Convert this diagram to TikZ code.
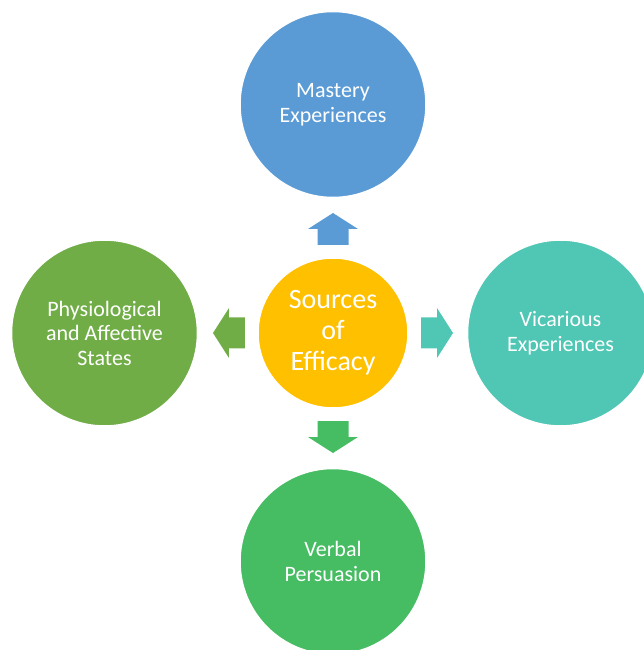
\documentclass[tikz,border=0pt]{standalone}
\usepackage{fontspec}
\setmainfont{Carlito}
\usetikzlibrary{positioning}
\definecolor{masteryblue}{HTML}{5B9BD5}
\definecolor{sourceyellow}{HTML}{FFC000}
\definecolor{vicariousteal}{HTML}{50C6B4}
\definecolor{physiogreen}{HTML}{70AD47}
\definecolor{verbalgreen}{HTML}{46BC63}
\tikzset{
  bubble/.style={draw=white, line width=1.5pt, circle, minimum size=186pt,
    inner sep=0pt, text=white, align=center, font=\fontsize{22}{24.5}\selectfont},
  blockarrow/.style={draw=none}
}
\begin{document}
\begin{tikzpicture}[x=1pt,y=1pt]
\useasboundingbox (-333,-317) rectangle (310,333);
\node[bubble, fill=sourceyellow, minimum size=150pt,
  font=\fontsize{28}{31}\selectfont] (src) at (0,0) {Sources\\of\\Efficacy};
\node[bubble, fill=masteryblue, above=59pt of src] (mastery) {Mastery\\Experiences};
\node[bubble, fill=vicariousteal, right=58pt of src] (vicarious) {Vicarious\\Experiences};
\node[bubble, fill=verbalgreen, below=59pt of src] (verbal) {Verbal\\Persuasion};
\node[bubble, fill=physiogreen, left=59pt of src] (physio) {Physiological\\and Affective\\States};
% block arrows pointing out of the centre
\foreach \ang/\col in {90/masteryblue, 0/vicariousteal, 270/verbalgreen, 180/physiogreen}
  \fill[blockarrow, \col, rotate around={\ang:(src.center)}]
    (src.center) ++(88,-15.5) -- ++(16,0) -- ++(0,-9.5) -- ++(16,25)
    -- ++(-16,25) -- ++(0,-9.5) -- ++(-16,0) -- cycle;
\end{tikzpicture}
\end{document}
